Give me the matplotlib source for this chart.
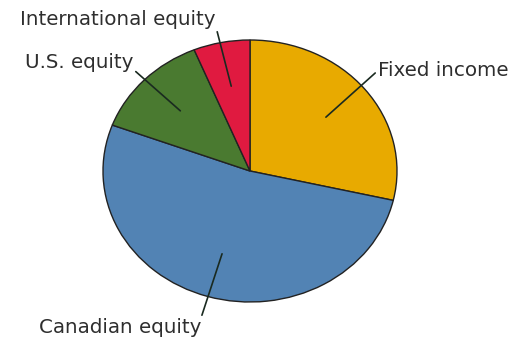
import matplotlib
matplotlib.use("Agg")
import numpy as np
from matplotlib import pyplot as plt

# portfolio allocation (percent)
labels = ["Fixed income", "Canadian equity", "U.S. equity", "International equity"]
shares = [28.6, 52.1, 13.1, 6.2]
colors = ["#e8aa00", "#5283b4", "#4a7a30", "#e01a40"]

# where each label sits (figure pixels, from bottom-left, baseline), alignment and leader attach point
text_pos = [(378, 264), (201, 7), (133, 272), (216, 315)]
text_ha = ["left", "right", "right", "right"]
relpos = [(0.0, 0.5), (1.0, 1.0), (1.0, 0.15), (1.0, 0.1)]

fig = plt.figure(figsize=(5.14, 3.40), dpi=100)
W, H = 514, 340
ax = fig.add_axes([103 / W, 38 / H, 294 / W, 262 / H])

wedges, _ = ax.pie(shares, colors=colors, startangle=90, counterclock=False,
                   radius=1.0, wedgeprops=dict(edgecolor="#222222", linewidth=1.0))
ax.set_aspect("auto")
ax.set_xlim(-1.0, 1.0)
ax.set_ylim(-1.0, 1.0)
ax.axis("off")

for w, lab, pos, ha, rp in zip(wedges, labels, text_pos, text_ha, relpos):
    mid = np.deg2rad((w.theta1 + w.theta2) / 2.0)
    inner = (0.66 * np.cos(mid), 0.66 * np.sin(mid))
    ax.annotate(lab, xy=inner, xycoords="data", xytext=pos, textcoords="figure pixels",
                ha=ha, va="baseline", fontsize=14.3, color="#2e2e2e",
                family="DejaVu Sans",
                arrowprops=dict(arrowstyle="-", color="#1a2a20", lw=1.2,
                                shrinkA=0, shrinkB=0, relpos=rp),
                annotation_clip=False)

fig.savefig("out.png", dpi=100)
